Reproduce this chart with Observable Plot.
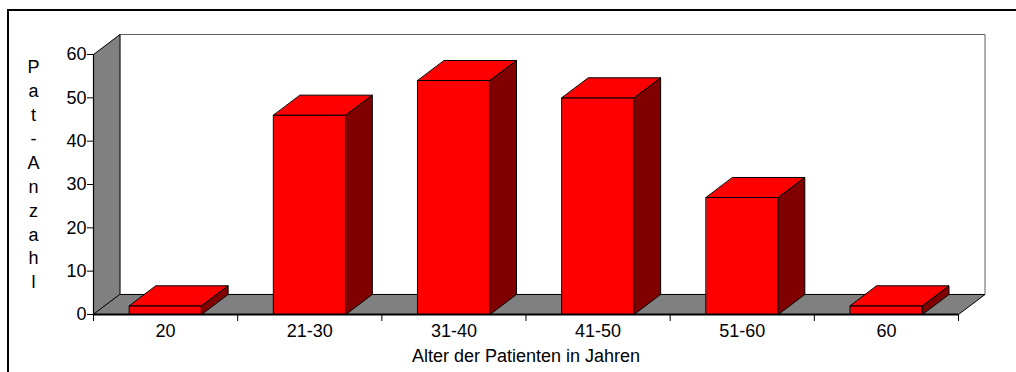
<!DOCTYPE html>
<html>
<head>
<meta charset="utf-8">
<script src="https://cdn.jsdelivr.net/npm/d3@7"></script>
<script src="https://cdn.jsdelivr.net/npm/@observablehq/plot@0.6"></script>
<style>
  body { margin: 0; background: #fff; overflow: hidden; }
  #frame { position: absolute; left: 7px; top: 9px; width: 2000px; height: 1000px; border: 2px solid #000; }
  #chart { position: absolute; left: 0; top: 0; }
</style>
</head>
<body>
<div id="frame"></div>
<div id="chart"></div>
<script>
// Age groups and patient counts
const categories = ["20", "21-30", "31-40", "41-50", "51-60", "60"];
const counts = [2, 46, 54, 50, 27, 2];
const yTicks = [0, 10, 20, 30, 40, 50, 60];
const yMax = 60;
const yTitle = "Pat-Anzahl";
const xTitle = "Alter der Patienten in Jahren";

// Depth of the pseudo-3D box, in data units (x: category slots, y: counts)
const DX = 0.184;
const DY = 4.62;
const n = categories.length;
const barHalf = 0.25;

// Faces of each bar: front, top and right side as closed polygons
const fronts = [], tops = [], sides = [];
counts.forEach((v, i) => {
  const x0 = i + 0.5 - barHalf, x1 = i + 0.5 + barHalf;
  const id = categories[i];
  [[x0, 0], [x1, 0], [x1, v], [x0, v]].forEach(([x, y]) => fronts.push({id, x, y}));
  [[x0, v], [x1, v], [x1 + DX, v + DY], [x0 + DX, v + DY]].forEach(([x, y]) => tops.push({id, x, y}));
  [[x1, 0], [x1 + DX, DY], [x1 + DX, v + DY], [x1, v]].forEach(([x, y]) => sides.push({id, x, y}));
});

// Walls and floor of the box
const backWall = [[DX, DY], [n + DX, DY], [n + DX, yMax + DY], [DX, yMax + DY]].map(([x, y]) => ({x, y}));
const leftWall = [[0, 0], [0, yMax], [DX, yMax + DY], [DX, DY]].map(([x, y]) => ({x, y}));
const floor = [[0, 0], [n, 0], [n + DX, DY], [DX, DY]].map(([x, y]) => ({x, y}));

const poly = (data, fill, stroke, extra = {}) =>
  Plot.line(data, {x: "x", y: "y", curve: "linear-closed", fill, stroke, strokeWidth: 1, ...extra});

const chart = Plot.plot({
  width: 1016,
  height: 372,
  marginLeft: 93,
  marginRight: 58,
  marginTop: 54,
  marginBottom: 58,
  style: {fontFamily: "Arial, 'Liberation Sans', sans-serif", fontSize: "18px", color: "#000", background: "transparent", overflow: "visible"},
  x: {domain: [0, n], axis: null},
  y: {domain: [0, yMax], axis: null},
  marks: [
    poly(backWall, "#ffffff", "#606060"),
    poly(leftWall, "#808080", "#000"),
    poly(floor, "#808080", "#000"),
    poly(fronts, "#ff0000", "#000", {z: "id"}),
    poly(tops, "#ff0000", "#000", {z: "id"}),
    poly(sides, "#800000", "#000", {z: "id"}),
    Plot.ruleX([0], {y1: 0, y2: yMax, stroke: "#000", strokeWidth: 1.2}),
    Plot.ruleY([0], {x1: 0, x2: n, stroke: "#000", strokeWidth: 2}),
    Plot.axisY({ticks: yTicks, tickSize: 6, tickPadding: 1, label: null, stroke: "#000"}),
    Plot.axisX({ticks: d3.range(n + 1), tickSize: 7, tickFormat: () => "", label: null, stroke: "#000"}),
    Plot.text(categories, {x: (d, i) => i + 0.5, y: 0, dy: 17, text: d => d, fill: "#000"}),
    Plot.text([yTitle], {frameAnchor: "left", dx: -60, dy: -11.5, text: d => d.split("").join("\n"), lineHeight: 1.33, textAnchor: "middle", fill: "#000"}),
    Plot.text([xTitle], {frameAnchor: "bottom", dy: 47, text: d => d, fill: "#000"})
  ]
});
document.getElementById("chart").appendChild(chart);
</script>
</body>
</html>
